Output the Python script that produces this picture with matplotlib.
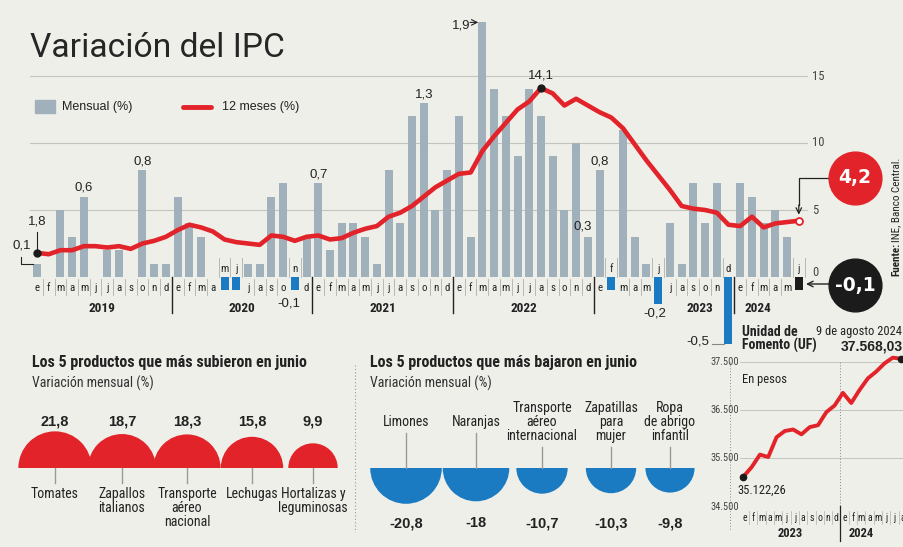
import matplotlib
matplotlib.use('Agg')
import matplotlib.pyplot as plt
from matplotlib import font_manager as fm
from matplotlib.patches import Wedge, Rectangle
import numpy as np

avail = {f.name for f in fm.fontManager.ttflist}


def pick(*names):
    for n in names:
        if n in avail:
            return n
    return 'DejaVu Sans'


NARROW = pick('Liberation Sans Narrow', 'Roboto Condensed', 'DejaVu Sans')
SANS = pick('Liberation Sans', 'Arial', 'DejaVu Sans')
TITLE = pick('Roboto', 'Open Sans', 'Liberation Sans')

# ---- data ----
meses = ['e', 'f', 'm', 'a', 'm', 'j', 'j', 'a', 's', 'o', 'n', 'd']
anios = ['2019', '2020', '2021', '2022', '2023', '2024']

# IPC mensual (%) ene-2019 .. jun-2024
mensual = [0.1, 0.0, 0.5, 0.3, 0.6, 0.0, 0.2, 0.2, 0.0, 0.8, 0.1, 0.1,
           0.6, 0.4, 0.3, 0.0, -0.1, -0.1, 0.1, 0.1, 0.6, 0.7, -0.1, 0.3,
           0.7, 0.2, 0.4, 0.4, 0.3, 0.1, 0.8, 0.4, 1.2, 1.3, 0.5, 0.8,
           1.2, 0.3, 1.9, 1.4, 1.2, 0.9, 1.4, 1.2, 0.9, 0.5, 1.0, 0.3,
           0.8, -0.1, 1.1, 0.3, 0.1, -0.2, 0.4, 0.1, 0.7, 0.4, 0.7, -0.5,
           0.7, 0.6, 0.4, 0.5, 0.3, -0.1]
# IPC 12 meses (%)
anual = [1.8, 1.7, 2.0, 2.0, 2.3, 2.3, 2.2, 2.3, 2.1, 2.5, 2.7, 3.0,
         3.5, 3.9, 3.7, 3.4, 2.8, 2.6, 2.5, 2.4, 3.1, 3.0, 2.7, 3.0,
         3.1, 2.8, 2.9, 3.3, 3.6, 3.8, 4.5, 4.8, 5.3, 6.0, 6.7, 7.2,
         7.7, 7.8, 9.4, 10.5, 11.5, 12.5, 13.1, 14.1, 13.7, 12.8, 13.3, 12.8,
         12.3, 11.9, 11.1, 9.9, 8.7, 7.6, 6.5, 5.3, 5.1, 5.0, 4.8, 3.9,
         3.8, 4.5, 3.7, 4.0, 4.1, 4.2]

prod_sub = ['Tomates', 'Zapallos\nitalianos', 'Transporte\naéreo\nnacional',
            'Lechugas', 'Hortalizas y\nleguminosas']
val_sub = [21.8, 18.7, 18.3, 15.8, 9.9]
prod_baj = ['Limones', 'Naranjas', 'Transporte\naéreo\ninternacional',
            'Zapatillas\npara\nmujer', 'Ropa\nde abrigo\ninfantil']
val_baj = [-20.8, -18, -10.7, -10.3, -9.8]

uf_meses = ['e', 'f', 'm', 'a', 'm', 'j', 'j', 'a', 's', 'o', 'n', 'd',
            'e', 'f', 'm', 'a', 'm', 'j', 'j', 'a']
uf = [35122.26, 35320, 35580, 35530, 35940, 36070, 36100, 36000, 36150, 36190,
      36460, 36600, 36860, 36650, 36920, 37160, 37300, 37470, 37590, 37568.03]

# ---- style ----
BG = '#efefea'
GREY = '#a0b1bc'
BLUE = '#1b7bc2'
RED = '#e2232a'
BLACK = '#1b1b1b'
GRID = '#c4c4bf'
SEP = '#b0b0ab'


def fmt(v, d=1):
    return f"{v:.{d}f}".replace('.', ',')


def fmt_uf(v):
    return f"{v:,.2f}".replace(',', ' ').replace('.', ',').replace(' ', '.')


fig = plt.figure(figsize=(9.04, 5.47), dpi=100)
fig.patch.set_facecolor(BG)

# ---- main chart (x: month index, y: 12m %, bars x10) ----
X0, DX, Y0, DY = 37, 11.72, 277, 13.4
ax = fig.add_axes([0, 1 - 350 / 547, 1, 350 / 547])
ax.set_xlim(-X0 / DX, (904 - X0) / DX)
ax.set_ylim((Y0 - 350) / DY, Y0 / DY)
ax.axis('off')


def mx(p):
    return (p - X0) / DX


def my(p):
    return (Y0 - p) / DY


idx = np.arange(len(mensual))
m_arr = np.array(mensual)
colors = [BLACK if i == len(mensual) - 1 else (BLUE if v < 0 else GREY)
          for i, v in enumerate(mensual)]
ax.bar(idx, m_arr * 10, width=0.68, color=colors, zorder=2)

for g in [5, 10, 15]:
    ax.plot([mx(30), mx(807)], [g, g], color=GRID, lw=0.8, zorder=1)
for g in [0, 5, 10, 15]:
    ax.text(mx(812), g + (0.3 if g == 0 else 0), str(g), ha='left', va='center',
            fontsize=9, family=NARROW, color='#444')

ax.plot(idx, anual, color=RED, lw=3.3, zorder=4,
        solid_capstyle='round', solid_joinstyle='round')
ax.plot(0, anual[0], 'o', color=BLACK, ms=5, zorder=5)
ax.plot(43, anual[43], 'o', color=BLACK, ms=5, zorder=5)
ax.plot(65, anual[65], 'o', mfc='white', mec=RED, mew=1.3, ms=5, zorder=5)

# month labels and separators
for i in idx:
    neg = mensual[i] < 0
    ax.text(i, my(269) if neg else my(288), meses[i % 12], ha='center',
            va='center', fontsize=7.8, family=NARROW, color='#222')
for i in range(len(idx)):
    b = i + 0.5
    if (i + 1) % 12 == 0:
        continue
    nxt = mensual[i + 1] if i + 1 < len(mensual) else 0
    if mensual[i] < 0 or nxt < 0:
        ax.plot([b, b], [my(258), my(277)], color=SEP, lw=0.6)
    elif i + 1 < len(mensual):
        ax.plot([b, b], [my(279), my(295)], color=SEP, lw=0.6)
for k in range(1, 6):
    b = 12 * k - 0.5
    ax.plot([b, b], [my(277), my(313)], color='#222', lw=1)
year_pos = [5.5, 17.5, 29.5, 41.5, 56.6, 61.5]
for yp, a in zip(year_pos, anios):
    ax.text(yp, my(308), a, ha='center', va='center', fontsize=9.5,
            family=NARROW, weight='bold', color='#222')

# value labels
for i in [4, 9, 24, 33, 48]:
    ax.annotate(fmt(mensual[i]), (i, mensual[i] * 10), xytext=(0, 2),
                textcoords='offset points', ha='center', va='bottom',
                fontsize=9.5, family=SANS, color='#222')
ax.annotate(fmt(mensual[47]), (47, mensual[47] * 10), xytext=(-4, 3),
            textcoords='offset points', ha='center', va='bottom',
            fontsize=9.5, family=SANS, color='#222')
ax.text(mx(470), my(26), fmt(mensual[38]), ha='right', va='center',
        fontsize=9.5, family=SANS, color='#222')
ax.annotate('', xy=(38 - 0.35, mensual[38] * 10), xytext=(mx(470), mensual[38] * 10),
            arrowprops=dict(arrowstyle='->', lw=0.8, color='#222',
                            shrinkA=0, shrinkB=0))
ax.text(mx(289), my(303), fmt(mensual[22]), ha='center', va='center',
        fontsize=9.5, family=SANS, color='#222')
ax.text(mx(655), my(313), fmt(mensual[53]), ha='center', va='center',
        fontsize=9.5, family=SANS, color='#222')
ax.text(mx(709), my(341), fmt(mensual[59]), ha='right', va='center',
        fontsize=9.5, family=SANS, color='#222')
ax.plot([mx(712), 59 - 0.34], [mensual[59] * 10] * 2, color='#888', lw=0.8)

ax.text(mx(22), my(246), fmt(mensual[0]), ha='center', va='center',
        fontsize=9.5, family=SANS, color='#222')
ax.plot([mx(21.5), mx(21.5), -0.34], [my(257), mensual[0] * 10, mensual[0] * 10],
        color='#222', lw=0.8)
ax.text(0, my(221), fmt(anual[0]), ha='center', va='center',
        fontsize=9.5, family=SANS, color='#222')
ax.plot([0, 0], [my(232), my(249)], color='#222', lw=0.8)
ax.annotate(fmt(anual[43]), (43, anual[43]), xytext=(0, 5),
            textcoords='offset points', ha='center', va='bottom',
            fontsize=9.5, family=SANS, color='#222')

# highlight circles
ax.plot(mx(855), my(178), 'o', ms=38, color=RED, clip_on=False, zorder=6)
ax.text(mx(855), my(178), fmt(anual[-1]), ha='center', va='center', color='white',
        fontsize=13.5, weight='bold', family='DejaVu Sans', zorder=7)
ax.plot([mx(829), 65, 65], [my(178), my(178), my(205)], color='#222', lw=0.9)
ax.annotate('', xy=(65, anual[-1] + 0.45), xytext=(65, my(205)),
            arrowprops=dict(arrowstyle='->', lw=0.9, color='#222',
                            shrinkA=0, shrinkB=0))
ax.plot(mx(855), my(285), 'o', ms=38, color=BLACK, clip_on=False, zorder=6)
ax.text(mx(855), my(285), fmt(mensual[-1]), ha='center', va='center', color='white',
        fontsize=13.5, weight='bold', family='DejaVu Sans', zorder=7)
ax.annotate('', xy=(mx(806), my(284)), xytext=(mx(829), my(284)),
            arrowprops=dict(arrowstyle='->', lw=1, color='#222',
                            shrinkA=0, shrinkB=0))

# title and legend
ax.text(mx(30), my(48), 'Variación del IPC', fontsize=24.2, family=TITLE,
        weight='normal', va='center', ha='left', color='#262626')
ax.add_patch(Rectangle((mx(35), my(113)), mx(55) - mx(35), my(100) - my(113),
                       color=GREY))
ax.text(mx(62), my(107), 'Mensual (%)', va='center', fontsize=9, family=SANS, color='#222')
ax.plot([mx(183), mx(211)], [my(107)] * 2, color=RED, lw=3.5, solid_capstyle='round')
ax.text(mx(222), my(107), '12 meses (%)', va='center', fontsize=9, family=SANS, color='#222')

ax.text(mx(896), my(276), 'Fuente:', rotation=90, ha='center', va='bottom',
        fontsize=8, weight='bold', family=NARROW, color='#222')
ax.text(mx(896), my(242), 'INE, Banco Central.', rotation=90, ha='center',
        va='bottom', fontsize=8, family=NARROW, color='#222')

# ---- bottom panels (pixel coordinates) ----
axp = fig.add_axes([0, 0, 1, 1])
axp.set_xlim(0, 904)
axp.set_ylim(547, 0)
axp.axis('off')
K = 7.85
BASE = 468
sub_x = [55, 122, 187, 252, 313]
baj_x = [406, 476, 542, 611, 670]

axp.text(32, 363, 'Los 5 productos que más subieron en junio', fontsize=11.5,
         weight='bold', family=NARROW, va='center', color='#222')
axp.text(32, 383, 'Variación mensual (%)', fontsize=10, family=NARROW,
         va='center', color='#333')
for c, v, name in zip(sub_x, val_sub, prod_sub):
    r = K * np.sqrt(abs(v))
    axp.add_patch(Wedge((c, BASE), r, 180, 360, color=RED, lw=0))
    axp.text(c, 422, fmt(v), ha='center', va='center', fontsize=10.5,
             weight='bold', family=SANS, color='#222')
    axp.plot([c, c], [BASE, 483], color='#999', lw=1)
    axp.text(c, 487, name, ha='center', va='top', fontsize=10, family=NARROW,
             linespacing=1.0, color='#222')

axp.plot([355, 355], [365, 532], ls=(0, (1, 2)), color='#999', lw=0.8)

axp.text(370, 363, 'Los 5 productos que más bajaron en junio', fontsize=11.5,
         weight='bold', family=NARROW, va='center', color='#222')
axp.text(370, 383, 'Variación mensual (%)', fontsize=10, family=NARROW,
         va='center', color='#333')
for c, v, name in zip(baj_x, val_baj, prod_baj):
    r = K * np.sqrt(abs(v))
    axp.add_patch(Wedge((c, BASE), r, 0, 180, color=BLUE, lw=0))
    axp.text(c, 523, fmt(v) if v != int(v) else str(int(v)), ha='center',
             va='center', fontsize=10.5, weight='bold', family=SANS, color='#222')
    n = name.count('\n') + 1
    axp.text(c, 422, name, ha='center', va='center', fontsize=10, family=NARROW,
             linespacing=1.0, color='#222')
    axp.plot([c, c], [422 + 7 * n + 4, BASE], color='#999', lw=1)

# ---- UF chart ----
UX0, UDX, UY0, UDY = 745, 8.3, 362, 0.04823
axu = fig.add_axes([705 / 904, 1 - 545 / 547, 199 / 904, (545 - 325) / 547])
axu.set_xlim((705 - UX0) / UDX, (904 - UX0) / UDX)
axu.set_ylim(37500 - (545 - UY0) / UDY, 37500 + (UY0 - 325) / UDY)
axu.axis('off')


def ux(p):
    return (p - UX0) / UDX


def uy(p):
    return 37500 - (p - UY0) / UDY


for g in [35500, 36500, 37500]:
    axu.plot([ux(740), ux(904)], [g, g], color=GRID, lw=0.7)
for g in [34500, 35500, 36500, 37500]:
    axu.text(ux(739), g, f"{g:,}".replace(',', '.'), ha='right', va='center',
             fontsize=7.5, family=NARROW, color='#444')
axu.plot([ux(730)] * 2, [uy(362), uy(530)], ls=(0, (1, 2)), color='#888', lw=0.7)
axu.plot([11.5] * 2, [uy(362), uy(506)], ls=(0, (1, 2)), color='#888', lw=0.7)
axu.plot([11.5] * 2, [uy(506), uy(541)], color='#222', lw=0.9)

ux_pts = np.arange(len(uf)) - 0.2
axu.plot(ux_pts, uf, color=RED, lw=2.8, solid_capstyle='round',
         solid_joinstyle='round', zorder=3)
axu.plot(ux_pts[0], uf[0], 'o', color=BLACK, ms=4.5, zorder=4)
axu.plot(ux_pts[-1], uf[-1], 'o', color=BLACK, ms=4.5, zorder=4, clip_on=False)

for i, m in enumerate(uf_meses):
    axu.text(i, uy(518), m, ha='center', va='center', fontsize=7,
             family=NARROW, color='#222')
    if i < len(uf_meses) - 1 and i != 11:
        axu.plot([i + 0.5] * 2, [uy(511), uy(524)], color=SEP, lw=0.5)
axu.text(5.5, uy(533), '2023', ha='center', va='center', fontsize=9,
         weight='bold', family=NARROW, color='#222')
axu.text(ux(861), uy(533), '2024', ha='center', va='center', fontsize=9,
         weight='bold', family=NARROW, color='#222')

axu.text(ux(737), uy(490), fmt_uf(uf[0]), ha='left', va='center', fontsize=9,
         family=NARROW, color='#222')
axu.text(ux(742), uy(379), 'En pesos', ha='left', va='center', fontsize=9,
         family=NARROW, color='#222')
axu.text(ux(742), uy(339), 'Unidad de\nFomento (UF)', ha='left', va='center',
         fontsize=10, weight='bold', family=NARROW, linespacing=0.95, color='#222')
axu.text(ux(902), uy(331), '9 de agosto 2024', ha='right', va='center',
         fontsize=9, family=NARROW, color='#222')
axu.text(ux(903), uy(346), fmt_uf(uf[-1]), ha='right', va='center',
         fontsize=10, weight='bold', family=SANS, color='#222')

fig.savefig('out.png', dpi=100, facecolor=BG)
